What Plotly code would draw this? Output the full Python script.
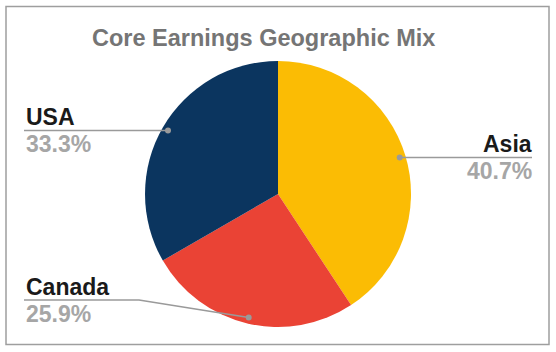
import math
import plotly.graph_objects as go

# ---- data ----
categories = ["Asia", "Canada", "USA"]
values = [40.7, 25.9, 33.3]
pct_labels = ["40.7%", "25.9%", "33.3%"]
colors = ["#FBBC04", "#EA4335", "#0B355F"]
title_text = "Core Earnings Geographic Mix"

# ---- layout constants (pixels) ----
W, H = 556, 352
cx, cy, R = 278, 194, 133          # pie centre / radius in pixels
dot_frac = 0.955                   # where leader lines touch the slices
# label placement: (side, text x, horizontal-line y or None to follow the dot, elbow x)
label_cfg = {
    "Asia":   ("right", 532, None, None),
    "Canada": ("left", 24, 300, 139),
    "USA":    ("left", 24, None, None),
}
LINE_COL = "#9a9a9a"

def px(x):
    return x / W

def py(y):
    return 1 - y / H

fig = go.Figure()
fig.add_trace(go.Pie(
    labels=categories, values=values, sort=False, direction="clockwise",
    rotation=0, textinfo="none", hoverinfo="label+percent",
    marker=dict(colors=colors, line=dict(width=0)),
    domain=dict(x=[px(cx - R), px(cx + R)], y=[py(cy + R), py(cy - R)]),
    showlegend=False,
))

shapes = [dict(type="rect", xref="paper", yref="paper",
               x0=px(6), x1=px(549), y0=py(344.5), y1=py(6.5),
               line=dict(color="#9e9e9e", width=1.5))]
annotations = []

total = sum(values)
cum = 0.0
for name, v, pl in zip(categories, values, pct_labels):
    mid = (cum + v / 2) / total * 2 * math.pi
    cum += v
    dx = cx + dot_frac * R * math.sin(mid)
    dy = cy - dot_frac * R * math.cos(mid)
    side, tx, ly, ex = label_cfg[name]
    if ly is None:
        ly = dy
    pts = [(tx, ly)]
    if ex is not None:
        pts.append((ex, ly))
    pts.append((dx, dy))
    path = "M " + " L ".join(f"{px(a)},{py(b)}" for a, b in pts)
    shapes.append(dict(type="path", xref="paper", yref="paper", path=path,
                       line=dict(color=LINE_COL, width=1.5)))
    r = 3
    shapes.append(dict(type="circle", xref="paper", yref="paper",
                       x0=px(dx - r), x1=px(dx + r), y0=py(dy + r), y1=py(dy - r),
                       fillcolor=LINE_COL, line=dict(width=0)))
    xa = "left" if side == "left" else "right"
    txx = tx + (1.5 if side == "right" else -0.5)
    annotations.append(dict(xref="paper", yref="paper", x=px(txx), y=py(ly + 1.5),
                            xanchor=xa, yanchor="bottom", showarrow=False,
                            text=f"<b>{name}</b>",
                            font=dict(family="Liberation Sans, Arial", size=23, color="#1a1a1a")))
    annotations.append(dict(xref="paper", yref="paper", x=px(txx), y=py(ly - 1.5),
                            xanchor=xa, yanchor="top", showarrow=False,
                            text=f"<b>{pl}</b>",
                            font=dict(family="Liberation Sans, Arial", size=23, color="#a6a6a6")))

annotations.append(dict(xref="paper", yref="paper", x=px(263), y=py(38),
                        xanchor="center", yanchor="middle", showarrow=False,
                        text=f"<b>{title_text}</b>",
                        font=dict(family="Liberation Sans, Arial", size=23.5, color="#757575")))

fig.update_layout(
    width=W, height=H, margin=dict(l=0, r=0, t=0, b=0),
    paper_bgcolor="white", plot_bgcolor="white",
    shapes=shapes, annotations=annotations,
)
fig.write_html("out.html")
